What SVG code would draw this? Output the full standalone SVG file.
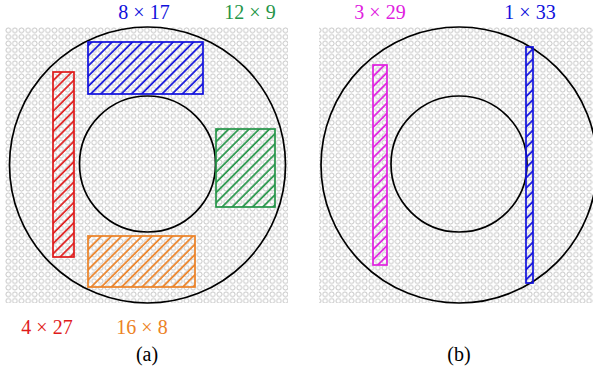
<svg xmlns="http://www.w3.org/2000/svg" width="593" height="376" viewBox="0 0 593 376">
<style>
.lbl{font-family:"Liberation Serif","Times New Roman",serif;font-size:20px;text-anchor:middle}
.ring{fill:none;stroke:#000;stroke-width:1.7}
.box{stroke-width:1.7}
</style>
<defs>
<pattern id="grid" patternUnits="userSpaceOnUse" x="5" y="27" width="6.6" height="6.6">
<circle cx="3.3" cy="3.3" r="2.4" fill="none" stroke="#ababab" stroke-width="0.7"/>
</pattern>
<pattern id="hB" patternUnits="userSpaceOnUse" width="7.2" height="7.2" patternTransform="rotate(45)"><line x1="1" y1="0" x2="1" y2="7.2" stroke="#1010dc" stroke-width="1.7"/></pattern>
<pattern id="hG" patternUnits="userSpaceOnUse" width="7.2" height="7.2" patternTransform="rotate(45)"><line x1="1" y1="0" x2="1" y2="7.2" stroke="#259548" stroke-width="1.7"/></pattern>
<pattern id="hR" patternUnits="userSpaceOnUse" width="7.2" height="7.2" patternTransform="rotate(45)"><line x1="1" y1="0" x2="1" y2="7.2" stroke="#e01b1b" stroke-width="1.7"/></pattern>
<pattern id="hO" patternUnits="userSpaceOnUse" width="7.2" height="7.2" patternTransform="rotate(45)"><line x1="1" y1="0" x2="1" y2="7.2" stroke="#ec8226" stroke-width="1.7"/></pattern>
<pattern id="hM" patternUnits="userSpaceOnUse" width="7.2" height="7.2" patternTransform="rotate(45)"><line x1="1" y1="0" x2="1" y2="7.2" stroke="#e020e0" stroke-width="1.7"/></pattern>
</defs>
<rect width="593" height="376" fill="#fff"/>
<g id="panel-a">
<rect x="5" y="27" width="283" height="276" fill="url(#grid)"/>
<circle class="ring" cx="147.5" cy="165" r="138"/>
<circle class="ring" cx="147.5" cy="164" r="68"/>
<g id="blue-a"><rect class="box" x="88" y="42" width="115" height="52" fill="url(#hB)" stroke="#1010dc"/></g>
<g id="green-a"><rect class="box" x="216" y="129" width="59" height="78" fill="url(#hG)" stroke="#259548"/></g>
<g id="red-a"><rect class="box" x="53" y="72" width="21" height="185" fill="url(#hR)" stroke="#e01b1b"/></g>
<g id="orange-a"><rect class="box" x="88" y="236" width="107" height="51" fill="url(#hO)" stroke="#ec8226"/></g>
<text class="lbl" x="144" y="19" fill="#1010dc">8 × 17</text>
<text class="lbl" x="250" y="19" fill="#259548">12 × 9</text>
<text class="lbl" x="47" y="334" fill="#e01b1b">4 × 27</text>
<text class="lbl" x="142" y="334" fill="#ec8226">16 × 8</text>
<text class="lbl" x="147" y="361" fill="#000">(a)</text>
</g>
<g id="panel-b">
<rect x="319" y="27" width="274" height="276" fill="url(#grid)"/>
<circle class="ring" cx="459" cy="165" r="138"/>
<circle class="ring" cx="459" cy="164" r="68"/>
<g id="magenta-b"><rect class="box" x="373" y="65" width="14" height="200" fill="url(#hM)" stroke="#e020e0"/></g>
<g id="blue-b"><rect class="box" x="526" y="47" width="7" height="236" fill="url(#hB)" stroke="#1010dc"/></g>
<text class="lbl" x="380" y="19" fill="#e020e0">3 × 29</text>
<text class="lbl" x="530" y="19" fill="#1010dc">1 × 33</text>
<text class="lbl" x="459" y="361" fill="#000">(b)</text>
</g>
<g id="connectors"/>
</svg>
